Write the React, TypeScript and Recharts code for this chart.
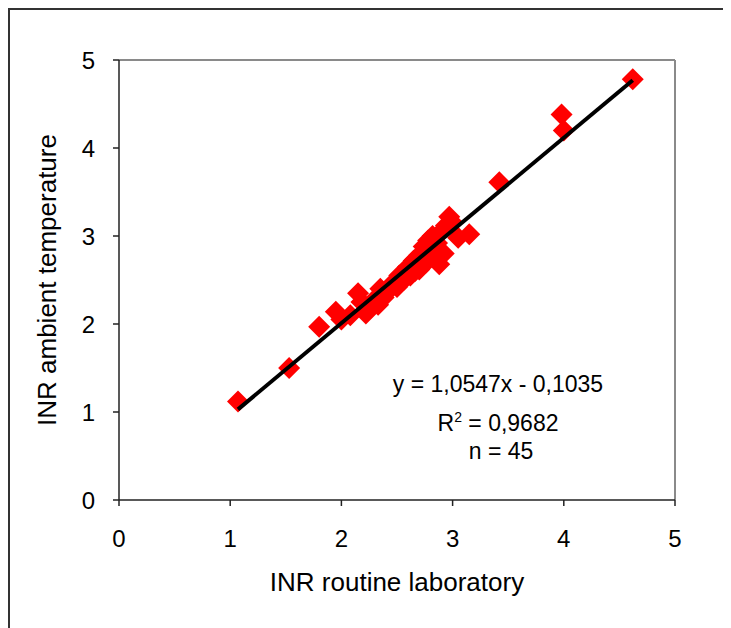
import { ReferenceLine, Scatter, ScatterChart, XAxis, YAxis } from "recharts";

// INR pairs (routine lab vs ambient temperature), n = 45
const LAB_INR = [
  1.07, 1.53, 1.8, 1.95, 2.0, 2.08, 2.15, 2.18, 2.22, 2.26,
  2.3, 2.33, 2.35, 2.4, 2.45, 2.5, 2.52, 2.56, 2.6, 2.62,
  2.65, 2.66, 2.7, 2.72, 2.74, 2.76, 2.78, 2.8, 2.82, 2.84,
  2.86, 2.88, 2.9, 2.92, 2.94, 2.97, 3.0, 3.05, 3.15, 3.42,
  3.98, 4.0, 4.62, 2.38, 2.7,
];
const AMBIENT_INR = [
  1.12, 1.5, 1.97, 2.14, 2.05, 2.1, 2.35, 2.25, 2.12, 2.18,
  2.28, 2.22, 2.4, 2.35, 2.45, 2.42, 2.55, 2.5, 2.65, 2.55,
  2.72, 2.6, 2.78, 2.66, 2.88, 2.7, 2.95, 2.82, 3.0, 2.76,
  2.92, 2.68, 3.05, 2.8, 3.12, 3.22, 3.15, 2.98, 3.02, 3.61,
  4.38, 4.2, 4.78, 2.3, 2.62,
];

// regression line ends
const TREND_X = [1.07, 4.62];
const TREND_Y = [1.03, 4.77];

const AXIS_TICKS = [0, 1, 2, 3, 4, 5];

const FONT = '"Liberation Sans", Arial, sans-serif';
const AXIS_COLOR = "#222";
const FRAME_COLOR = "#8a8a8a";
const TICK_STYLE = { fill: "#000", fontSize: 24, fontFamily: FONT };
const TITLE_STYLE = { fill: "#000", fontSize: 26, fontFamily: FONT };

const points = LAB_INR.map((x, i) => ({ x, y: AMBIENT_INR[i] }));
const trend = TREND_X.map((x, i) => ({ x, y: TREND_Y[i] }));

function Diamond(props: any) {
  const { cx, cy } = props;
  const r = 11;
  return (
    <polygon
      points={`${cx},${cy - r} ${cx + r},${cy} ${cx},${cy + r} ${cx - r},${cy}`}
      fill="#ff0000"
    />
  );
}

const noDot = () => <g />;

const noteStyle = {
  position: "absolute" as const,
  left: 338,
  width: 300,
  textAlign: "center" as const,
  fontSize: 23,
  lineHeight: "28px",
};

export default function App() {
  return (
    <div
      style={{
        position: "relative",
        width: 723,
        height: 620,
        borderTop: "2px solid #333",
        borderLeft: "2px solid #333",
        boxSizing: "border-box",
        fontFamily: FONT,
        overflow: "hidden",
      }}
    >
      <style>{"body{overflow:hidden}"}</style>
      <ScatterChart
        width={721}
        height={618}
        margin={{ top: 50, right: 56, left: 9, bottom: 88 }}
      >
        <XAxis
          type="number"
          dataKey="x"
          domain={[0, 5]}
          ticks={AXIS_TICKS}
          tick={TICK_STYLE}
          tickSize={6}
          tickMargin={24}
          height={40}
          axisLine={{ stroke: AXIS_COLOR, strokeWidth: 1.5 }}
          tickLine={{ stroke: AXIS_COLOR, strokeWidth: 1.5 }}
          label={{
            value: "INR routine laboratory",
            position: "bottom",
            offset: 33,
            style: TITLE_STYLE,
          }}
        />
        <YAxis
          type="number"
          dataKey="y"
          domain={[0, 5]}
          ticks={AXIS_TICKS}
          tick={TICK_STYLE}
          tickSize={6}
          tickMargin={18}
          width={100}
          axisLine={{ stroke: AXIS_COLOR, strokeWidth: 1.5 }}
          tickLine={{ stroke: AXIS_COLOR, strokeWidth: 1.5 }}
          label={{
            value: "INR ambient temperature",
            angle: -90,
            position: "insideLeft",
            offset: 28,
            style: { ...TITLE_STYLE, textAnchor: "middle" },
          }}
        />
        <ReferenceLine y={5} stroke={FRAME_COLOR} strokeWidth={2} />
        <ReferenceLine x={5} stroke={FRAME_COLOR} strokeWidth={2} />
        <Scatter data={points} shape={Diamond} isAnimationActive={false} />
        <Scatter
          data={trend}
          line={{ stroke: "#000", strokeWidth: 4 }}
          shape={noDot}
          isAnimationActive={false}
        />
      </ScatterChart>
      <div style={{ ...noteStyle, top: 360 }}>y = 1,0547x - 0,1035</div>
      <div style={{ ...noteStyle, top: 393 }}>
        R<sup style={{ fontSize: 14 }}>2</sup> = 0,9682
      </div>
      <div style={{ ...noteStyle, left: 341, top: 427 }}>n = 45</div>
    </div>
  );
}
